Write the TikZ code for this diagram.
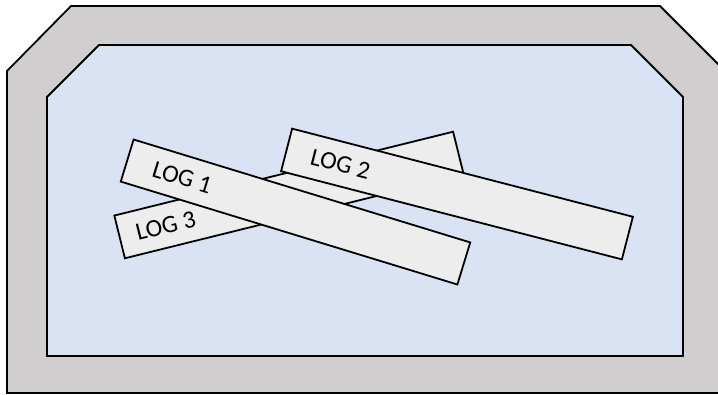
\documentclass[tikz,border=0pt]{standalone}
\usepackage{fontspec}
\setmainfont{Carlito}
\usepackage{xcolor}
\usepackage{tikz}
\usetikzlibrary{positioning}

\definecolor{binGray}{RGB}{208,206,206}
\definecolor{binBlue}{RGB}{218,227,243}
\definecolor{logFill}{RGB}{237,237,237}

\begin{document}
\begin{tikzpicture}[x=1pt, y=-1pt,
    wall/.style={draw=black, line width=1.8pt},
    logbox/.style={draw=black, fill=logFill, line width=1.8pt, rectangle, minimum height=44pt, inner sep=0pt},
    loglabel/.style={inner sep=0pt, anchor=west, font=\fontsize{25}{25}\selectfont}]
    \clip (0,0) rectangle (718,394);
    % bin walls
    \draw[wall, fill=binGray] (71,6) -- (660,6) -- (725,71) -- (725,393) -- (7,393) -- (7,71) -- cycle;
    \draw[wall, fill=binBlue] (99,45) -- (631,45) -- (683,97) -- (683,356) -- (47,356) -- (47,97) -- cycle;
    % logs, bottom one first
    \foreach \n/\cx/\cy/\ang/\len/\pad in {3/289/195/13.9/349/17, 2/457/194/-14.5/352/25, 1/295.5/212/-17/352/27} {
        \begin{scope}[shift={(\cx,\cy)}, rotate=\ang, transform shape]
            \node[logbox, minimum width=\len pt] (log\n) at (0,0) {};
            \node[loglabel] (lab\n) at (-\len/2+\pad,0) {LOG \n};
        \end{scope}
    }
\end{tikzpicture}
\end{document}
